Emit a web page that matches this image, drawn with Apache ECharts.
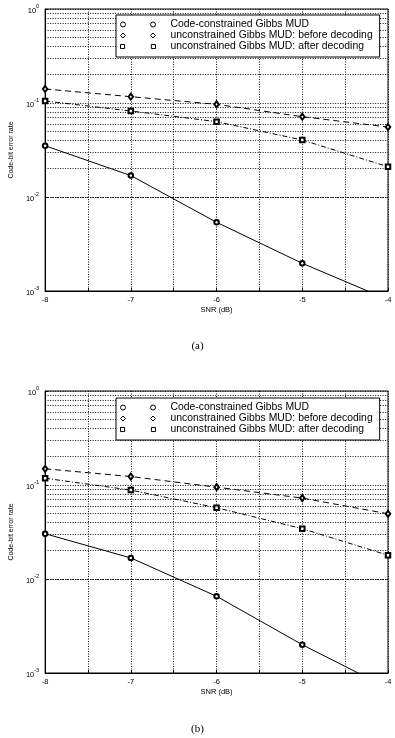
<!DOCTYPE html>
<html>
<head>
<meta charset="utf-8">
<script src="https://cdn.jsdelivr.net/npm/echarts@6/dist/echarts.min.js"></script>
<style>
html,body{margin:0;padding:0;background:#fff;}
#chart{width:395px;height:738px;}
</style>
</head>
<body>
<div id="chart"></div>
<script>
// ---- data ----
const snr = [-8, -7, -6, -5, -4];
const seriesNames = ['Code-constrained Gibbs MUD', 'unconstrained Gibbs MUD: before decoding', 'unconstrained Gibbs MUD: after decoding'];
// panel (a)
const aCode   = [0.0351, 0.0169, 0.00538, 0.00197, 0.00081];
const aBefore = [0.141, 0.1167, 0.0968, 0.0715, 0.0555];
const aAfter  = [0.105, 0.0822, 0.0633, 0.0404, 0.0210];
// panel (b)
const bCode   = [0.0303, 0.01675, 0.00655, 0.00200, 0.00069];
const bBefore = [0.1486, 0.123, 0.0948, 0.0726, 0.0494];
const bAfter  = [0.118, 0.0883, 0.0573, 0.0343, 0.0179];
// log-grid minor lines
const minorVals = [0.002,0.003,0.004,0.005,0.006,0.007,0.008,0.009,
                   0.02,0.03,0.04,0.05,0.06,0.07,0.08,0.09,
                   0.2,0.3,0.4,0.5,0.6,0.7,0.8,0.9];
const panelLabels = ['(a)', '(b)'];

const chart = echarts.init(document.getElementById('chart'), null, {renderer: 'canvas'});
const dotted = [1, 1.5];
const sansFont = 'Liberation Sans';

function pair(a) { return snr.map((x, i) => [x, a[i]]); }

const grids = [
  {left: 28, top: 9, width: 360, height: 282, show: true, borderColor: '#000', borderWidth: 1, backgroundColor: '#fff'},
  {left: 28, top: 391, width: 360, height: 282, show: true, borderColor: '#000', borderWidth: 1, backgroundColor: '#fff'}
];

function xAx(i) {
  return {
    type: 'value', gridIndex: i, min: -8, max: -4, interval: 0.5,
    name: 'SNR (dB)', nameLocation: 'middle', nameGap: 15,
    nameTextStyle: {fontSize: 7.5, fontFamily: sansFont, color: '#000'},
    axisLine: {show: true, lineStyle: {color: '#000', width: 1}},
    axisTick: {show: true, inside: true, length: 3, lineStyle: {color: '#000'}},
    axisLabel: {fontSize: 7.5, fontFamily: sansFont, color: '#000', margin: 5,
      formatter: v => Number.isInteger(v) ? String(v) : ''},
    splitLine: {show: true, lineStyle: {color: '#111', type: dotted, width: 1}}
  };
}
function yAx(i) {
  return {
    type: 'log', logBase: 10, gridIndex: i, min: 0.001, max: 1,
    name: 'Code-bit error rate', nameLocation: 'middle', nameGap: 17,
    nameTextStyle: {fontSize: 7, fontFamily: sansFont, color: '#000'},
    axisLine: {show: true, lineStyle: {color: '#000', width: 1}},
    axisTick: {show: true, inside: true, length: 3, lineStyle: {color: '#000'}},
    axisLabel: {
      color: '#000', margin: 6,
      formatter: v => '{b|10}{s|' + Math.round(Math.log10(v)) + '}',
      rich: {
        b: {fontSize: 7.5, fontFamily: sansFont, color: '#000', lineHeight: 12, verticalAlign: 'bottom'},
        s: {fontSize: 5.5, fontFamily: sansFont, color: '#000', lineHeight: 12, verticalAlign: 'top'}
      }
    },
    splitLine: {show: true, lineStyle: {color: '#111', type: dotted, width: 1}}
  };
}

function makeSeries(i, code, before, after) {
  return [
    {name: seriesNames[0], type: 'line', xAxisIndex: i, yAxisIndex: i, data: pair(code),
     symbol: 'emptyCircle', symbolSize: 4.5, clip: true,
     lineStyle: {color: '#000', width: 1, type: 'solid'},
     itemStyle: {color: '#000', borderWidth: 1}, z: 3},
    {name: seriesNames[1], type: 'line', xAxisIndex: i, yAxisIndex: i, data: pair(before),
     symbol: 'emptyDiamond', symbolSize: [4.5, 6], clip: true,
     lineStyle: {color: '#000', width: 1, type: [6, 4]},
     itemStyle: {color: '#000', borderWidth: 1}, z: 3},
    {name: seriesNames[2], type: 'line', xAxisIndex: i, yAxisIndex: i, data: pair(after),
     symbol: 'emptyRect', symbolSize: 4.5, clip: true,
     lineStyle: {color: '#000', width: 1, type: [5, 2, 1, 2]},
     itemStyle: {color: '#000', borderWidth: 1}, z: 3,
     markLine: {silent: true, symbol: 'none', label: {show: false}, animation: false,
       lineStyle: {color: '#111', type: dotted, width: 1},
       emphasis: {disabled: true}, z: 1,
       data: minorVals.map(v => ({yAxis: v}))}}
  ];
}

// legend icons: two markers with a gap
const iconCircle = 'path://M0,2.5a2.5,2.5 0 1,0 5,0a2.5,2.5 0 1,0 -5,0M30,2.5a2.5,2.5 0 1,0 5,0a2.5,2.5 0 1,0 -5,0';
const iconDiamond = 'path://M2.5,0L5,2.5L2.5,5L0,2.5ZM32.5,0L35,2.5L32.5,5L30,2.5Z';
const iconSquare = 'path://M0.5,0.5L4.5,0.5L4.5,4.5L0.5,4.5ZM30.5,0.5L34.5,0.5L34.5,4.5L30.5,4.5Z';
const icons = [iconCircle, iconDiamond, iconSquare];

function legend(top) {
  return {
    orient: 'vertical', left: 116, top: top, z: 20,
    backgroundColor: '#fff', borderColor: '#000', borderWidth: 1,
    padding: [4, 7, 5, 4], itemGap: 0, itemWidth: 35, itemHeight: 5,
    selectedMode: false,
    itemStyle: {color: '#fff', borderColor: '#000', borderWidth: 1},
    formatter: name => '{t|' + name + '}',
    textStyle: {fontSize: 10.4, fontFamily: sansFont, color: '#000', lineHeight: 11,
      rich: {t: {fontSize: 10.4, fontFamily: sansFont, color: '#000', lineHeight: 11, padding: [0, 0, 0, 10]}}},
    data: seriesNames.map((n, k) => ({name: n, icon: icons[k]}))
  };
}

const option = {
  animation: false,
  backgroundColor: '#fff',
  grid: grids,
  xAxis: [xAx(0), xAx(1)],
  yAxis: [yAx(0), yAx(1)],
  legend: [legend(15), legend(398)],
  title: [
    {text: panelLabels[0], left: 'center', top: 336, textStyle: {fontSize: 11, fontWeight: 'normal', fontFamily: 'Liberation Serif', color: '#000'}},
    {text: panelLabels[1], left: 'center', top: 719, textStyle: {fontSize: 11, fontWeight: 'normal', fontFamily: 'Liberation Serif', color: '#000'}}
  ],
  series: [].concat(makeSeries(0, aCode, aBefore, aAfter), makeSeries(1, bCode, bBefore, bAfter))
};
chart.setOption(option);
</script>
</body>
</html>
